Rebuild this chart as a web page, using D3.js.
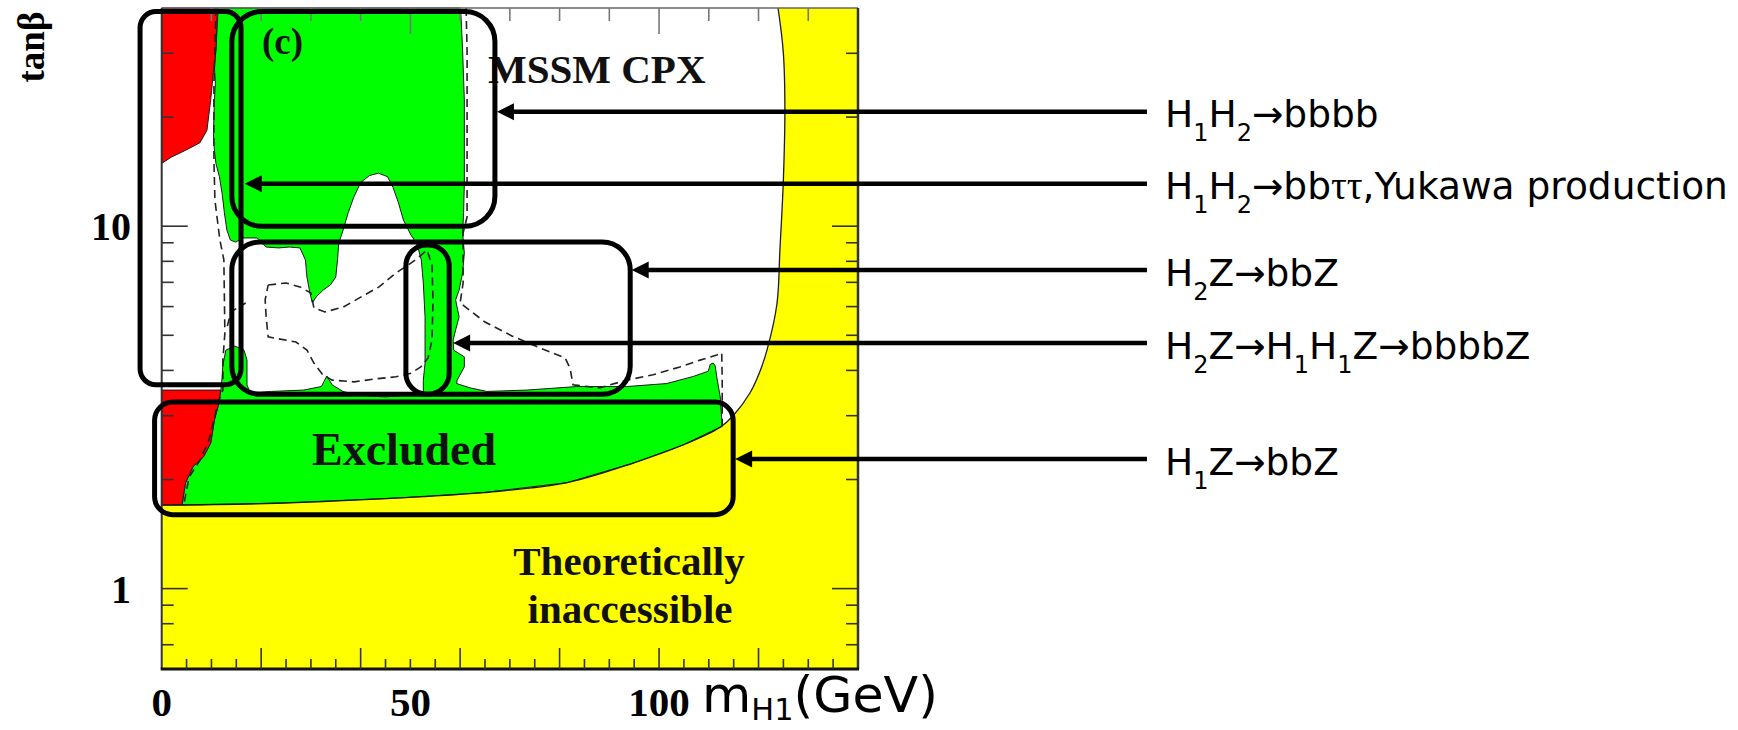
<!DOCTYPE html>
<html><head><meta charset="utf-8">
<script src="https://cdn.jsdelivr.net/npm/d3@7/dist/d3.min.js"></script>
<style>body{margin:0;background:#fff;overflow:hidden}</style>
</head><body>
<svg id="c" width="1738" height="730"></svg>
<script>
// ---------------- data (m_H1 in GeV, tan beta) ----------------
const xDomain = [0, 140];
const yDomain = [0.6, 40];
const xLabelTicks = [0, 50, 100];
const xMinorTicks = d3.range(5, 140, 5);
const xTopTicks = d3.range(10, 140, 10);
const yLabelTicks = [1, 10];
const yMinorTicks = [0.7, 0.8, 0.9, 1, 2, 3, 4, 5, 6, 7, 8, 9, 10, 20, 30];

// theoretical boundary (yellow region lies below / right of it)
const theoryBoundary = [[0,1.70],[23,1.72],[47.9,1.78],[64.6,1.84],[81.5,1.96],[94.8,2.22],[104.8,2.49],[112.3,2.79],[114.9,3.0],[118.3,3.47],[120.3,3.98],[121.7,4.55],[123.7,6.1],[124.3,8.6],[125.0,13.5],[125.3,21.3],[125.0,29.9],[124.0,39.3],[123.9,40]];

// red regions
const redUpper = [[0,40],[11.2,40],[10.9,30.6],[10.5,27.5],[9.85,22.3],[9.1,18.4],[7.7,17.0],[4.8,16.2],[1.9,15.5],[0,14.9]];
const redLower = [[0,3.53],[11.9,3.53],[11.3,3.17],[10.6,2.92],[9.85,2.52],[8.4,2.31],[6.3,2.17],[4.8,1.96],[4.1,1.72],[4.1,1.70],[0,1.70]];

// green excluded region
const greenExcluded = [
 [11.2,40],[60.1,40],[60.5,30.6],[60.85,22.3],[60.85,13.1],[60.7,10.9],[60.5,9.58],[60.85,8.43],[60.5,7.43],[59.8,6.67],[59.1,6.26],[59.8,5.62],[59.1,5.17],[58.6,4.85],[58.7,4.55],[60.85,4.36],[60.85,4.09],[59.4,3.76],[59.3,3.68],
 [62.0,3.58],[65.35,3.50],[73.4,3.53],[83.45,3.61],[93.5,3.61],[101.55,3.68],[106.9,3.85],[109.9,3.98],[110.3,4.16],[110.9,4.19],[111.3,4.11],[111.6,3.84],[112.3,3.38],[112.7,2.80],
 [112.3,2.79],[104.8,2.49],[94.8,2.22],[81.5,1.96],[64.6,1.84],[47.9,1.78],[23,1.72],[4.1,1.70],
 [4.8,1.96],[6.3,2.17],[8.4,2.31],[9.85,2.52],[10.6,2.92],[11.3,3.17],[11.9,3.53],
 [12.1,3.76],[12.3,4.14],[12.9,4.55],[14.7,4.67],[16.55,4.55],[17.15,4.27],[17.15,3.65],[17.76,3.47],
 [22.06,3.50],[28.5,3.53],[32.1,3.61],[33.2,3.86],[34.26,3.65],[36.44,3.50],[39.3,3.42],[45.0,3.38],[49.35,3.42],[52.6,3.50],
 [52.6,3.76],[52.95,4.19],[52.95,5.62],[52.6,6.97],[52.2,8.07],[51.5,8.76],[51.1,9.04],[50.1,9.46],
 [48.6,10.4],[47.6,11.6],[46.5,12.8],[45.4,13.7],[43.6,14.0],[41.8,13.8],[40.0,13.2],[38.6,12.0],[37.5,10.9],[36.3,9.58],[35.6,8.99],
 [35.35,8.07],[35.0,7.24],[33.9,6.88],[32.5,6.67],[31.05,6.38],[30.3,6.14],[29.8,6.54],[29.2,7.24],[28.9,8.07],[27.8,8.71],
 [25.7,8.76],[23.5,8.71],[21.0,8.76],[19.2,9.28],[16.3,9.28],[14.9,9.04],[13.8,9.16],[13.1,9.76],
 [12.6,10.9],[12.15,12.3],[11.6,13.7],[10.9,14.9],[10.6,16.2],[10.4,18.0],[10.6,22.3],[10.8,24.8],[10.6,27.5],[10.9,30.6],[11.3,38.7]
];

// dashed contours
const dashedLeft = [[10.9,40],[10.7,30.6],[10.5,24.8],[10.5,15.2],[10.7,11.8],[11.7,9.16],[12.5,8.07],[12.7,5.07],[12.3,4.27],[12.3,3.53],[11.3,3.25],[10.5,2.92],[9.5,2.57],[7.7,2.26],[5.5,2.03],[4.5,1.72]];
const dashedLoop = [[21.4,6.88],[25.0,6.97],[27.8,6.80],[30.0,6.54],[30.6,5.95],[32.8,5.80],[36.5,5.98],[40.1,6.38],[43.7,6.80],[47.1,7.43],[50.1,7.91],[51.5,8.17],[53.35,8.60],[54.35,7.81],[54.55,6.26],[54.35,4.85],[53.55,4.33],[52.1,4.09],[50.1,3.93],[47.1,3.84],[42.9,3.79],[38.7,3.72],[34.25,3.76],[32.4,3.89],[30.6,4.19],[29.2,4.55],[27.0,4.79],[21.4,4.95],[21.0,5.62],[20.8,6.26],[21.4,6.88]];
const dashedSmall = [[13.2,5.3],[13.9,5.8],[16.9,6.14]];
const dashedRight = [[61.2,40],[61.4,30.6],[61.4,16.2],[61.4,10.6],[60.6,9.58],[60.6,6.97],[60.0,6.14],[65.0,5.44],[70.4,4.98],[76.1,4.61],[81.1,4.33],[82.1,4.06],[82.7,3.65],[88.0,3.58],[93.5,3.76],[98.8,3.89],[104.2,4.09],[108.25,4.27],[111.6,4.41],[112.6,4.47],[112.7,3.76],[112.7,2.83]];

// annotation boxes [m0, m1, tanb0, tanb1]
const boxes = [[-4.35,15.95,3.65,39.1],[14.1,67.0,10.0,39.1],[14.1,94.2,3.44,9.04],[49.1,57.8,3.44,8.88],[-1.43,114.9,1.60,3.27]];
// arrows: tan beta level, tip m_H1, tail m_H1
const arrowY = [20.7, 13.1, 7.57, 4.76, 2.28];
const arrowTip = [67.4, 16.7, 94.5, 58.6, 115.3];
const arrowTail = 198.1;
const arrowLabels = [
 [["H"],["1","sub"],["H"],["2","sub"],["→bbbb"]],
 [["H"],["1","sub"],["H"],["2","sub"],["→bb"],["ττ","tau"],[",Yukawa production"]],
 [["H"],["2","sub"],["Z→bbZ"]],
 [["H"],["2","sub"],["Z→H"],["1","sub"],["H"],["1","sub"],["Z→bbbbZ"]],
 [["H"],["1","sub"],["Z→bbZ"]]
];

// ---------------- drawing ----------------
const svg = d3.select('#c');
const x = d3.scaleLinear().domain(xDomain).range([161.7, 858]);
const y = d3.scaleLog().domain(yDomain).range([669, 8]);
const lin = d3.line().x(d => x(d[0])).y(d => y(d[1]));
const smooth = d3.line().x(d => x(d[0])).y(d => y(d[1])).curve(d3.curveCatmullRom.alpha(0.5));
const closed = d3.line().x(d => x(d[0])).y(d => y(d[1])).curve(d3.curveLinearClosed);

const serif = "'Liberation Serif','Times New Roman',serif";
const sans = "'DejaVu Sans',Verdana,sans-serif";

// yellow
svg.append('path')
  .attr('d', smooth(theoryBoundary) + `L${x(140)},${y(40)}L${x(140)},${y(0.6)}L${x(0)},${y(0.6)}Z`)
  .attr('fill', '#ffff00');
// green
svg.append('path').attr('d', closed(greenExcluded)).attr('fill', '#00ff00').attr('stroke', '#1a1a1a').attr('stroke-width', 1).attr('stroke-linejoin','round');
// red
[redUpper, redLower].forEach(r => svg.append('path').attr('d', closed(r)).attr('fill', '#ff0000').attr('stroke', '#1a1a1a').attr('stroke-width', 1));
// boundary line
svg.append('path').attr('d', smooth(theoryBoundary)).attr('fill', 'none').attr('stroke', '#1a1a1a').attr('stroke-width', 1.3);
// dashed
[dashedLeft, dashedLoop, dashedSmall, dashedRight].forEach(d => svg.append('path').attr('d', lin(d)).attr('fill','none').attr('stroke','#222').attr('stroke-width',1.6).attr('stroke-dasharray','8,5'));

// frame
const fx0 = x(xDomain[0]), fx1 = x(xDomain[1]), fy0 = y(yDomain[1]), fy1 = y(yDomain[0]);
svg.append('line').attr('x1', fx0).attr('x2', fx1).attr('y1', fy0).attr('y2', fy0).attr('stroke', '#666').attr('stroke-width', 1.6);
svg.append('line').attr('x1', fx0).attr('x2', fx0).attr('y1', fy0).attr('y2', fy1).attr('stroke', '#333').attr('stroke-width', 2);
svg.append('line').attr('x1', fx1).attr('x2', fx1).attr('y1', fy0).attr('y2', fy1).attr('stroke', '#333').attr('stroke-width', 2.5);
svg.append('line').attr('x1', fx0 - 1).attr('x2', fx1 + 1).attr('y1', fy1).attr('y2', fy1).attr('stroke', '#111').attr('stroke-width', 3);

const tk = svg.append('g').attr('stroke', '#333').attr('stroke-width', 1.6);
xMinorTicks.forEach(v => { const L = v % 20 === 0 ? 21 : 10; tk.append('line').attr('x1', x(v)).attr('x2', x(v)).attr('y1', fy1).attr('y2', fy1 - L); });
xTopTicks.forEach(v => { const L = v % 50 === 0 ? 26 : 13; tk.append('line').attr('x1', x(v)).attr('x2', x(v)).attr('y1', fy0).attr('y2', fy0 + L).attr('stroke','#777'); });
yMinorTicks.forEach(v => {
  const L = yLabelTicks.includes(v) ? 26 : 12;
  tk.append('line').attr('x1', fx0).attr('x2', fx0 + L).attr('y1', y(v)).attr('y2', y(v));
  tk.append('line').attr('x1', fx1).attr('x2', fx1 - L).attr('y1', y(v)).attr('y2', y(v));
});

// axis labels
xLabelTicks.forEach(v => svg.append('text').attr('x', x(v)).attr('y', 716).attr('text-anchor', 'middle')
  .attr('font-family', serif).attr('font-weight', 'bold').attr('font-size', 41).text(v));
yLabelTicks.forEach(v => svg.append('text').attr('x', 131).attr('y', y(v) + 14).attr('text-anchor', 'end')
  .attr('font-family', serif).attr('font-weight', 'bold').attr('font-size', 40).text(v));
svg.append('text').attr('transform', 'translate(44,47) rotate(-90)').attr('text-anchor', 'middle')
  .attr('font-family', serif).attr('font-weight', 'bold').attr('font-size', 37).text('tanβ');

function richText(g, parts, size, xx, yy, shiftK, subK) {
  shiftK = shiftK || 0.37; subK = subK || 0.64;
  const t = g.append('text').attr('x', xx).attr('y', yy).attr('font-family', sans).attr('font-size', size).attr('fill', '#000');
  let shifted = false;
  parts.forEach(p => {
    const s = t.append('tspan').text(p[0]);
    if (p[1] === 'sub') {
      s.attr('font-size', size * subK).attr('dy', shifted ? 0 : size * shiftK); shifted = true;
    } else {
      if (shifted) { s.attr('dy', -size * shiftK); shifted = false; }
      if (p[1] === 'tau') s.attr('font-family', serif).attr('font-size', size * 1.05);
    }
  });
  return t;
}
// m_H1(GeV), fitted to the reference width
const mParts = [["m"], ["H1", "sub"], ["(GeV)"]];
let mg = svg.append('g');
let mw = richText(mg, mParts, 44, 702, 716, 0.2, 0.6).node().getComputedTextLength();
mg.remove();
const mfs = 44 * 236 / mw;
richText(svg.append('g'), mParts, mfs, 702, 712, 8 / mfs, 0.6);

// in-plot texts
const ptxt = (s, xx, yy, size, anchor) => svg.append('text').attr('x', xx).attr('y', yy).attr('text-anchor', anchor || 'start')
  .attr('font-family', serif).attr('font-weight', 'bold').attr('font-size', size).attr('fill', '#111').text(s);
ptxt('(c)', 262, 54, 37);
ptxt('MSSM CPX', 488, 83, 41);
ptxt('Excluded', 312, 465, 46);
ptxt('Theoretically', 629, 575, 41, 'middle');
ptxt('inaccessible', 630, 623, 41, 'middle');

// annotation boxes
const radius = [16, 30, 28, 21, 18];
boxes.forEach((b, i) => svg.append('rect')
  .attr('x', x(b[0])).attr('y', y(b[3])).attr('width', x(b[1]) - x(b[0])).attr('height', y(b[2]) - y(b[3]))
  .attr('rx', radius[i]).attr('fill', 'none').attr('stroke', '#000').attr('stroke-width', 5));

// arrows
arrowY.forEach((v, i) => {
  const yy = y(v), tip = x(arrowTip[i]), tail = x(arrowTail);
  svg.append('line').attr('x1', tail).attr('x2', tip + 14).attr('y1', yy).attr('y2', yy).attr('stroke', '#000').attr('stroke-width', 4.5);
  svg.append('path').attr('d', `M${tip},${yy}L${tip + 17},${yy - 8.5}L${tip + 17},${yy + 8.5}Z`).attr('fill', '#000');
});

// arrow labels, fitted to the reference width of the longest one
let lg = svg.append('g');
const pw = richText(lg, arrowLabels[1], 30, 0, 0).node().getComputedTextLength();
lg.remove();
const fs = 30 * 563 / pw;
const lab = svg.append('g');
arrowY.forEach((v, i) => richText(lab, arrowLabels[i], fs, x(arrowTail) + 18, y(v) + fs * 0.42));
</script>
</body></html>
